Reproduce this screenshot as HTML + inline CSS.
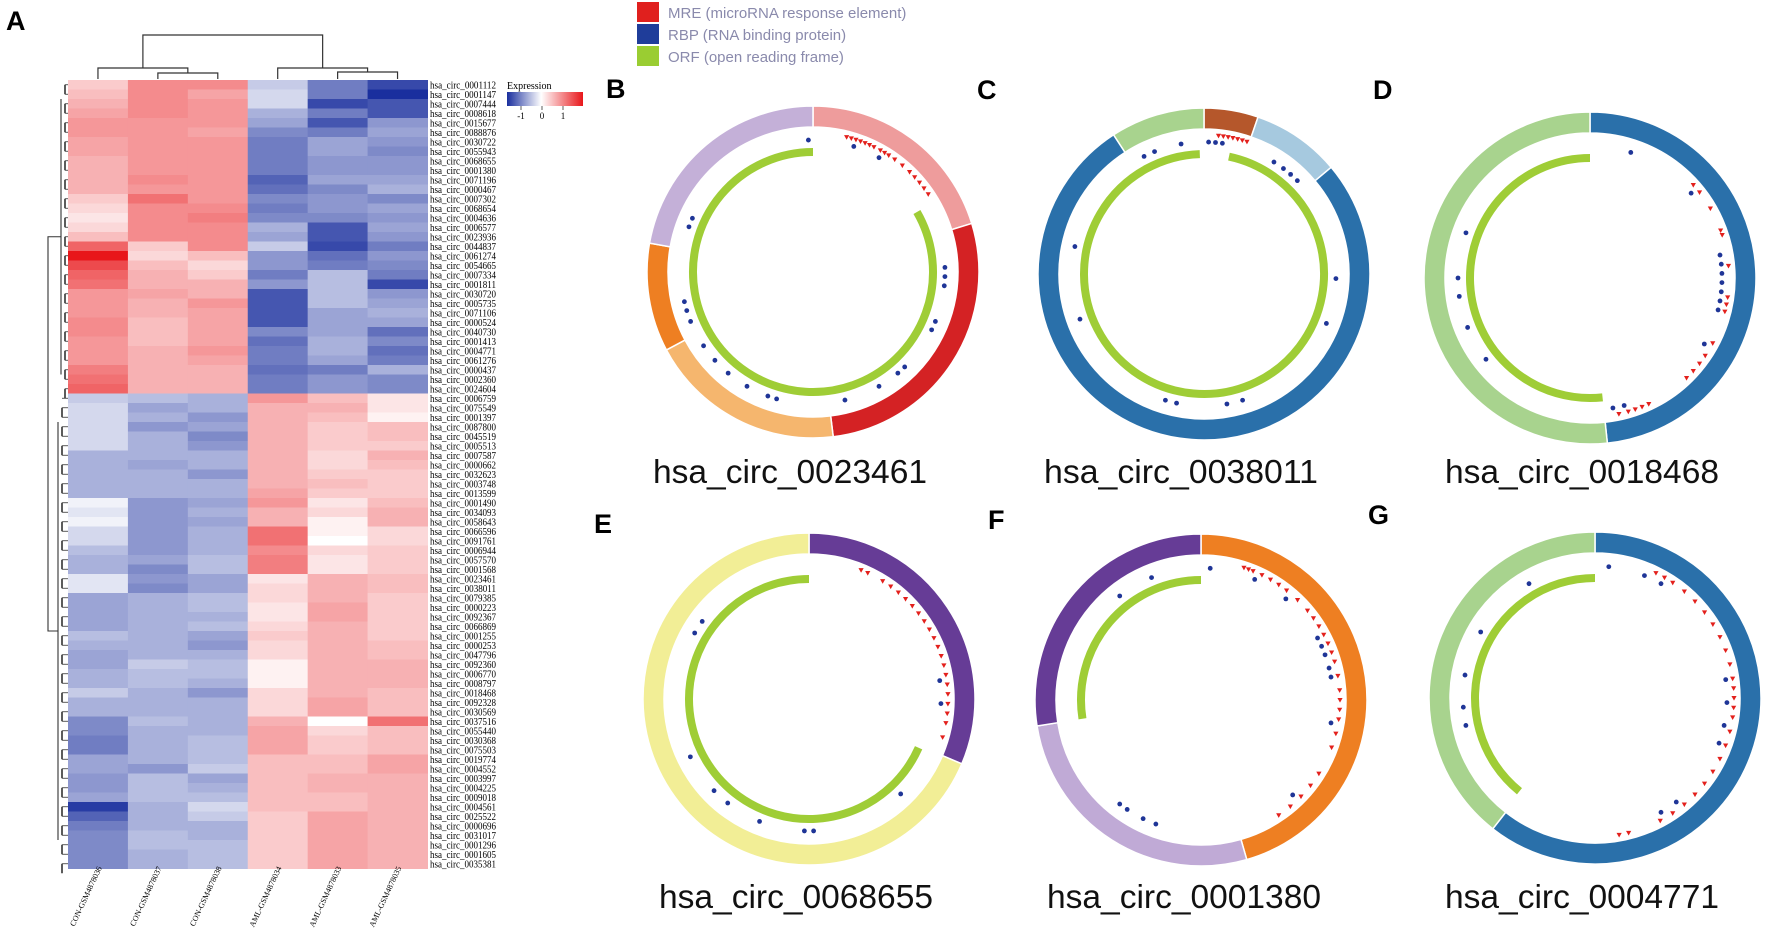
<!DOCTYPE html>
<html><head><meta charset="utf-8">
<style>
html,body{margin:0;padding:0;background:#fff;}
svg{display:block;}
text{font-family:"Liberation Sans",sans-serif;}
.serif{font-family:"Liberation Serif",serif;}
</style></head>
<body>
<svg id="fig" width="1772" height="929" viewBox="0 0 1772 929" xmlns="http://www.w3.org/2000/svg">
  <text x="6" y="30" font-size="27" font-weight="bold">A</text>
  <text x="606" y="98" font-size="27" font-weight="bold">B</text>
  <text x="977" y="99" font-size="27" font-weight="bold">C</text>
  <text x="1373" y="99" font-size="27" font-weight="bold">D</text>
  <text x="594" y="533" font-size="27" font-weight="bold">E</text>
  <text x="988" y="529" font-size="27" font-weight="bold">F</text>
  <text x="1368" y="524" font-size="27" font-weight="bold">G</text>

  <g>
    <g><rect x="637" y="2" width="22" height="20" fill="#e0201e"/><text x="668" y="18" font-size="15" fill="#8a8aac">MRE (microRNA response element)</text></g>
    <g><rect x="637" y="24" width="22" height="20" fill="#1f3d9a"/><text x="668" y="40" font-size="15" fill="#8a8aac">RBP (RNA binding protein)</text></g>
    <g><rect x="637" y="46" width="22" height="20" fill="#9acd32"/><text x="668" y="62" font-size="15" fill="#8a8aac">ORF (open reading frame)</text></g>
  </g>

  <g>
    <text class="serif" x="507" y="89" font-size="10">Expression</text>
    <defs><linearGradient id="cb" x1="0" x2="1" y1="0" y2="0">
      <stop offset="0" stop-color="#1a2f9e"/><stop offset="0.45" stop-color="#ffffff"/><stop offset="1" stop-color="#e8161a"/>
    </linearGradient></defs>
    <rect x="507" y="92" width="76" height="14" fill="url(#cb)"/>
    <g id="cbticks"></g>
  </g>

  <g id="heatmap"></g>
  <g id="circles"></g>
</svg>
<script>
// ---------- Heatmap data ----------
const sampleLabels = ["CON-GSM4878036","CON-GSM4878037","CON-GSM4878038","AML-GSM4878034","AML-GSM4878033","AML-GSM4878035"];
const rowLabels = ["0001112","0001147","0007444","0008618","0015677","0088876","0030722","0055943","0068655","0001380","0071196","0000467","0007302","0068654","0004636","0006577","0023936","0044837","0061274","0054665","0007334","0001811","0030720","0005735","0071106","0000524","0040730","0001413","0004771","0061276","0000437","0002360","0024604","0006759","0075549","0001397","0087800","0045519","0005513","0007587","0000662","0032623","0003748","0013599","0001490","0034093","0058643","0066596","0091761","0006944","0057570","0001568","0023461","0038011","0079385","0000223","0092367","0066869","0001255","0000253","0047796","0092360","0006770","0008797","0018468","0092328","0030569","0037516","0055440","0030368","0075503","0019774","0004552","0003997","0004225","0009018","0004561","0025522","0000696","0031017","0001296","0001605","0035381"];
const expr = [
[0.4,0.9,0.9,-0.4,-1.0,-1.4],[0.5,0.9,0.7,-0.3,-1.0,-1.6],[0.6,0.9,0.8,-0.3,-1.4,-1.3],[0.7,0.9,0.8,-0.6,-1.0,-1.3],
[0.8,0.8,0.8,-0.7,-1.3,-0.8],[0.8,0.8,0.7,-0.9,-1.0,-0.7],[0.7,0.8,0.8,-1.0,-0.7,-0.8],[0.7,0.8,0.8,-1.0,-0.7,-0.9],
[0.6,0.8,0.8,-1.0,-0.8,-0.8],[0.6,0.8,0.8,-1.0,-0.8,-0.8],[0.6,0.9,0.8,-1.2,-0.7,-0.7],[0.6,0.8,0.8,-1.1,-0.9,-0.6],
[0.4,1.1,0.8,-0.9,-0.8,-0.9],[0.3,0.9,0.9,-1.0,-0.8,-0.7],[0.2,0.9,1.0,-0.9,-0.9,-0.8],[0.3,0.9,0.9,-0.6,-1.3,-0.7],
[0.5,0.9,0.9,-0.7,-1.3,-0.8],[1.2,0.4,0.9,-0.4,-1.4,-1.0],[1.8,0.3,0.5,-0.8,-1.1,-0.8],[1.4,0.5,0.3,-0.8,-1.0,-0.9],
[1.2,0.6,0.4,-1.0,-0.5,-1.0],[1.1,0.6,0.6,-0.8,-0.5,-1.4],[0.8,0.7,0.6,-1.3,-0.5,-0.8],[0.8,0.6,0.8,-1.3,-0.5,-0.7],
[0.8,0.6,0.7,-1.3,-0.7,-0.6],[0.9,0.5,0.7,-1.3,-0.7,-0.7],[0.9,0.5,0.7,-0.9,-0.7,-1.1],[0.8,0.5,0.7,-1.1,-0.6,-0.9],
[0.8,0.6,0.8,-1.0,-0.6,-1.1],[0.8,0.6,0.7,-1.0,-0.7,-1.0],[1.0,0.6,0.6,-1.1,-1.0,-0.6],[1.1,0.6,0.6,-1.0,-0.8,-0.9],
[1.2,0.6,0.6,-1.0,-0.8,-0.9],
[-0.4,-0.5,-0.6,0.8,0.5,0.2],[-0.3,-0.7,-0.6,0.6,0.6,0.2],[-0.3,-0.6,-0.8,0.6,0.5,0.1],[-0.3,-0.8,-0.7,0.6,0.4,0.5],
[-0.3,-0.6,-0.9,0.6,0.4,0.5],[-0.3,-0.6,-0.8,0.6,0.4,0.4],[-0.6,-0.6,-0.6,0.6,0.3,0.6],[-0.6,-0.7,-0.6,0.6,0.3,0.5],
[-0.6,-0.6,-0.8,0.6,0.4,0.4],[-0.6,-0.6,-0.6,0.6,0.5,0.4],[-0.6,-0.6,-0.6,0.7,0.4,0.4],[-0.1,-0.8,-0.7,0.8,0.2,0.5],
[-0.2,-0.8,-0.6,0.6,0.3,0.6],[-0.1,-0.8,-0.7,0.6,0.1,0.6],[-0.3,-0.8,-0.6,1.1,0.1,0.3],[-0.3,-0.8,-0.6,1.1,0.0,0.3],
[-0.5,-0.8,-0.6,0.9,0.3,0.4],[-0.6,-0.7,-0.5,1.0,0.2,0.4],[-0.6,-0.9,-0.5,1.0,0.2,0.4],[-0.2,-0.8,-0.7,0.2,0.6,0.5],
[-0.2,-0.9,-0.7,0.3,0.6,0.5],[-0.7,-0.6,-0.5,0.3,0.6,0.4],[-0.7,-0.6,-0.5,0.2,0.7,0.4],[-0.7,-0.6,-0.6,0.2,0.7,0.4],
[-0.7,-0.6,-0.5,0.3,0.6,0.4],[-0.5,-0.6,-0.7,0.4,0.6,0.4],[-0.6,-0.6,-0.8,0.3,0.6,0.5],[-0.7,-0.6,-0.6,0.3,0.6,0.5],
[-0.7,-0.4,-0.5,0.1,0.6,0.6],[-0.6,-0.5,-0.5,0.1,0.6,0.6],[-0.6,-0.5,-0.6,0.1,0.6,0.6],[-0.4,-0.6,-0.8,0.3,0.6,0.5],
[-0.6,-0.6,-0.6,0.3,0.7,0.5],[-0.6,-0.6,-0.6,0.3,0.7,0.5],[-0.9,-0.5,-0.6,0.6,0.0,1.1],[-0.9,-0.6,-0.6,0.7,0.3,0.5],
[-1.0,-0.6,-0.5,0.7,0.4,0.5],[-1.0,-0.6,-0.5,0.7,0.4,0.5],[-0.7,-0.6,-0.5,0.5,0.5,0.7],[-0.7,-0.8,-0.4,0.5,0.5,0.7],
[-0.8,-0.5,-0.7,0.5,0.6,0.6],[-0.8,-0.5,-0.6,0.5,0.6,0.6],[-0.7,-0.5,-0.5,0.5,0.5,0.6],[-1.5,-0.6,-0.3,0.5,0.5,0.6],
[-1.2,-0.6,-0.4,0.4,0.7,0.6],[-1.0,-0.6,-0.6,0.4,0.7,0.6],[-0.9,-0.5,-0.6,0.4,0.7,0.6],[-0.9,-0.5,-0.5,0.4,0.7,0.6],
[-0.9,-0.6,-0.5,0.4,0.7,0.6],[-0.9,-0.6,-0.5,0.4,0.7,0.6]];
const cbTicks = [-1,0,1];
const rowClusterSplit = 33;

// ---------- Circ plot data ----------
const circNames = ["hsa_circ_0023461","hsa_circ_0038011","hsa_circ_0018468","hsa_circ_0068655","hsa_circ_0001380","hsa_circ_0004771"];
const segStarts = [[0,73,173,242,280],[0,19,50,327],[0,174],[0,113],[0,164,261],[0,218]];
const segEnds   = [[73,173,242,280,360],[19,50,327,360],[174,360],[113,360],[164,261,360],[218,360]];
const segColors = [["#ee9c9c","#d42224","#f5b66e","#ee7f22","#c4b0d8"],["#b5572b","#a6c9df","#2a70aa","#a8d38e"],["#2a70aa","#a8d38e"],["#663c96","#f2ee96"],["#ee7f22","#c0aad6","#663c96"],["#2a70aa","#a8d38e"]];
const orfStarts = [[60],[12],[174],[114],[261],[219]];
const orfEnds   = [[360],[358],[360],[360],[360],[360]];
const mreAngles = [
 [14,16,18,20,22,24,26,29,31,33,36,40,44,47,50,53,56],
 [6,8,10,12,14,16,18],
 [48,52,60,70,72,85,98,101,104,118,124,128,132,136,155,158,161,164,168],
 [22,25,32,36,40,44,48,52,56,60,64,68,72,76,80,84,88,92,96,100,106],
 [18,20,22,26,30,34,38,44,50,54,58,62,66,70,74,80,86,90,94,98,104,110,122,128,134,140,146],
 [26,30,34,40,46,52,58,64,70,76,82,86,90,94,98,104,110,116,122,128,134,140,146,152,166,170]];
const rbpAngles = [
 [-2,18,30,88,92,96,112,116,136,140,150,166,196,200,210,220,228,236,248,253,257,290,294],
 [2,5,8,333,338,350,32,37,41,45,92,112,163,170,192,197,250,282],
 [18,50,80,84,88,92,96,100,104,120,165,170,232,248,262,270,290],
 [82,92,136,178,182,202,218,226,244,300,306],
 [4,24,40,62,66,70,76,80,100,136,200,206,214,218,338,322],
 [6,22,30,82,92,102,110,142,150,258,266,280,300,330]];

const NS="http://www.w3.org/2000/svg";
function mk(tag, attrs, parent){const e=document.createElementNS(NS,tag);for(const k in attrs)e.setAttribute(k,attrs[k]);parent.appendChild(e);return e;}

// ---------- Heatmap rendering ----------
const hm=document.getElementById('heatmap');
const hmLeft=68, hmRight=427.5, hmTop=80, rowH=9.5;
const colW=(hmRight-hmLeft)/sampleLabels.length;
const xCol=i=>hmLeft+i*colW;
const yRow=i=>hmTop+i*rowH;
function mix(a,b,t){return Math.round(a+(b-a)*t);}
function colorOf(v){
  if(v>=0){const t=Math.min(v/1.8,1);return `rgb(${mix(255,232,t)},${mix(255,22,t)},${mix(255,26,t)})`;}
  const t=Math.min(-v/1.6,1);return `rgb(${mix(255,26,t)},${mix(255,47,t)},${mix(255,158,t)})`;
}
expr.forEach((row,r)=>{
  row.forEach((v,c)=>{
    const cell=mk('rect',{x:xCol(c),y:yRow(r),width:colW+0.5,height:rowH+0.5,fill:colorOf(v)},hm);
    
    
  });
  const t=mk('text',{x:430,y:yRow(r)+rowH*0.5+3.5,'font-size':10,class:'serif',textLength:66,lengthAdjust:'spacingAndGlyphs'},hm);
  t.textContent='hsa_circ_'+rowLabels[r];
  
  
});
sampleLabels.forEach((s,c)=>{
  const cx=xCol(c)+colW/2;
  const t=mk('text',{x:cx+4,y:868,'font-size':8,class:'serif','text-anchor':'end',transform:`rotate(-65 ${cx+4} 868)`},hm);
  t.textContent=s;
  
  
});
// column dendrogram
const dg=mk('g',{stroke:'#333','stroke-width':1.2,fill:'none'},hm);


const cc=i=>xCol(i)+colW/2;
const dpath=`M${cc(1)},79V73H${cc(2)}V79 M${cc(0)},79V68H${(cc(1)+cc(2))/2}V73 M${cc(4)},79V72H${cc(5)}V79 M${cc(3)},79V68H${(cc(4)+cc(5))/2}V72 M${(cc(0)+(cc(1)+cc(2))/2)/2},68V35H${(cc(3)+(cc(4)+cc(5))/2)/2}V68`;
mk('path',{d:dpath},dg);
// row dendrogram (simplified)
const rg=mk('g',{stroke:'#333','stroke-width':1.1,fill:'none'},hm);


const topMid=yRow(rowClusterSplit/2), botMid=yRow(rowClusterSplit+(expr.length-rowClusterSplit)/2);
mk('path',{d:`M61,${topMid}H48V${botMid}H58`},rg);
mk('path',{d:`M61,${yRow(2)}V${yRow(31)} M58,${yRow(36)}V${yRow(80)}`},rg);
for(let r=0;r<expr.length;r++){
  const y=yRow(r)+rowH/2;
  const x0=(r<rowClusterSplit)?61:58;
  mk('path',{d:`M${x0+4},${y}H68`,'stroke-width':0.8},rg);
  if(r%2===0) mk('path',{d:`M${x0+4},${y}V${y+rowH}`,'stroke-width':1.6},rg);
}
// colorbar ticks
const cbg=document.getElementById('cbticks');
cbTicks.forEach(v=>{
  const x=542+21*v;
  mk('line',{x1:x,x2:x,y1:106,y2:110,stroke:'#333','stroke-width':0.8},cbg);
  const t=mk('text',{x:x,y:119,'font-size':9,'text-anchor':'middle',class:'serif'},cbg);
  t.textContent=String(v);
  
  
});

// ---------- Circ plots ----------
const centers=[[813,272],[1204,274],[1590,278],[809,699],[1201,700],[1595,698]];
const labelPos=[[790,483],[1181,483],[1582,483],[796,908],[1184,908],[1582,908]];
const Rout=166, Rin=145, Rorf=120, Rrbp=132, Rmre=139;
const pt=(cx,cy,r,a)=>{const t=a*Math.PI/180;return [cx+r*Math.sin(t),cy-r*Math.cos(t)];};
const cg=document.getElementById('circles');
circNames.forEach((name,i)=>{
  const [cx,cy]=centers[i];
  const g=mk('g',{},cg);
  
  
  segStarts[i].forEach((a0,k)=>{
    const a1=segEnds[i][k];
    const large=(a1-a0)>180?1:0;
    const p1=pt(cx,cy,Rout,a0),p2=pt(cx,cy,Rout,a1),p3=pt(cx,cy,Rin,a1),p4=pt(cx,cy,Rin,a0);
    const s=mk('path',{d:`M${p1}A${Rout},${Rout} 0 ${large} 1 ${p2}L${p3}A${Rin},${Rin} 0 ${large} 0 ${p4}Z`,fill:segColors[i][k],stroke:'#fff','stroke-width':1.5},g);
    
    
  });
  orfStarts[i].forEach((a0,k)=>{
    const a1=orfEnds[i][k];
    const large=(a1-a0)>180?1:0;
    const p1=pt(cx,cy,Rorf,a0),p2=pt(cx,cy,Rorf,a1);
    const o=mk('path',{d:`M${p1}A${Rorf},${Rorf} 0 ${large} 1 ${p2}`,fill:'none',stroke:'#9fcd36','stroke-width':8},g);
    
    
  });
  rbpAngles[i].forEach(a=>{
    const [x,y]=pt(cx,cy,Rrbp,a);
    const d=mk('circle',{cx:x,cy:y,r:2.4,fill:'#1f3597'},g);
    
    
  });
  mreAngles[i].forEach(a=>{
    const [x,y]=pt(cx,cy,Rmre,a);
    const m=mk('path',{d:`M${x-2.6},${y-2}L${x+2.6},${y-2}L${x},${y+2.6}Z`,fill:'#e3201c'},g);
    
    
  });
  const [lx,ly]=labelPos[i];
  const t=mk('text',{x:lx,y:ly,'font-size':33,'text-anchor':'middle',fill:'#111',textLength:274,lengthAdjust:'spacingAndGlyphs'},g);
  t.textContent=name;
  
  
});
</script>
</body></html>
